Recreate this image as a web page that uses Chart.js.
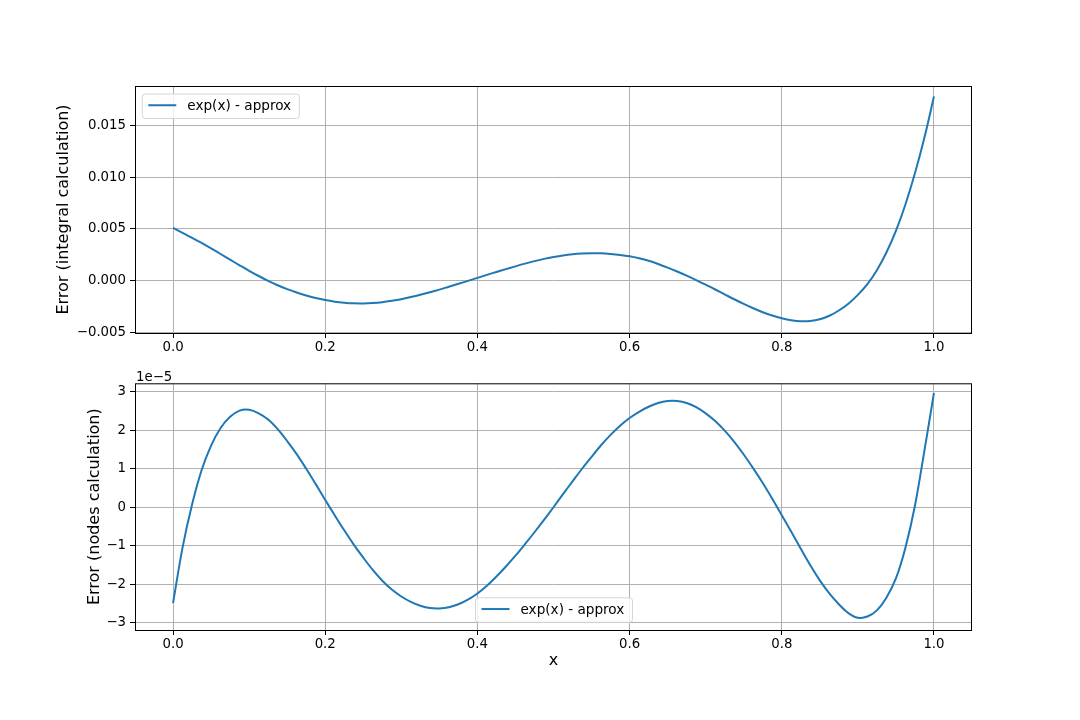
<!DOCTYPE html>
<html>
<head>
<meta charset="utf-8">
<script src="https://cdn.jsdelivr.net/npm/chart.js@4.4.0/dist/chart.umd.min.js"></script>
<style>
html,body{margin:0;padding:0;background:#ffffff;}
canvas{display:block;}
</style>
</head>
<body>
<canvas id="c1" width="1080" height="360"></canvas>
<canvas id="c2" width="1080" height="360"></canvas>
<script>
// ---- data ----
const seriesLabel = 'exp(x) - approx';
const topYLabel = 'Error (integral calculation)';
const botYLabel = 'Error (nodes calculation)';
const xLabel = 'x';
const botOffsetText = '1e\u22125';

// sample positions along x (shared by both panels)
const sampleX = [0, 0.0125, 0.025, 0.0375, 0.05, 0.0625, 0.075, 0.0875, 0.1, 0.1125,
  0.125, 0.1375, 0.15, 0.1625, 0.175, 0.1875, 0.2, 0.2125, 0.225, 0.2375,
  0.25, 0.2625, 0.275, 0.2875, 0.3, 0.3125, 0.325, 0.3375, 0.35, 0.3625,
  0.375, 0.3875, 0.4, 0.4125, 0.425, 0.4375, 0.45, 0.4625, 0.475, 0.4875,
  0.5, 0.5125, 0.525, 0.5375, 0.55, 0.5625, 0.575, 0.5875, 0.6, 0.6125,
  0.625, 0.6375, 0.65, 0.6625, 0.675, 0.6875, 0.7, 0.7125, 0.725, 0.7375,
  0.75, 0.7625, 0.775, 0.7875, 0.8, 0.8125, 0.825, 0.8375, 0.85, 0.8625,
  0.875, 0.8875, 0.9, 0.9125, 0.925, 0.9375, 0.95, 0.9625, 0.975, 0.9875, 1.0];

// top panel: error of the integral-based approximation
const topY = [0.00510, 0.00463, 0.00415, 0.00365, 0.00313, 0.00259, 0.00204, 0.00150, 0.00097, 0.00047,
  0.00000, -0.00042, -0.00080, -0.00112, -0.00140, -0.00165, -0.00185, -0.00200, -0.00210, -0.00216,
  -0.00217, -0.00213, -0.00205, -0.00192, -0.00176, -0.00156, -0.00134, -0.00110, -0.00084, -0.00056,
  -0.00028, 0.00000, 0.00029, 0.00058, 0.00086, 0.00113, 0.00140, 0.00166, 0.00190, 0.00212,
  0.00230, 0.00245, 0.00256, 0.00263, 0.00266, 0.00265, 0.00259, 0.00250, 0.00237, 0.00218,
  0.00194, 0.00163, 0.00128, 0.00090, 0.00050, 0.00007, -0.00037, -0.00083, -0.00130, -0.00177,
  -0.00222, -0.00264, -0.00302, -0.00334, -0.00360, -0.00379, -0.00389, -0.00387, -0.00370, -0.00336,
  -0.00285, -0.00220, -0.00135, -0.00032, 0.00103, 0.00273, 0.00481, 0.00736, 0.01036, 0.01381, 0.01775];

// bottom panel: error of the nodes-based approximation, in units of 1e-5
const botY = [-2.49, -1.05, 0.07, 0.96, 1.60, 2.06, 2.35, 2.51, 2.53, 2.44,
  2.28, 2.03, 1.72, 1.38, 1.00, 0.60, 0.19, -0.21, -0.60, -0.97,
  -1.31, -1.63, -1.91, -2.14, -2.32, -2.46, -2.56, -2.62, -2.63, -2.60,
  -2.52, -2.40, -2.24, -2.04, -1.80, -1.54, -1.26, -0.96, -0.65, -0.33,
  0.00, 0.34, 0.67, 1.00, 1.31, 1.61, 1.88, 2.12, 2.32, 2.48,
  2.61, 2.71, 2.76, 2.76, 2.71, 2.60, 2.44, 2.24, 1.99, 1.70,
  1.37, 1.01, 0.63, 0.22, -0.21, -0.64, -1.08, -1.51, -1.90, -2.24,
  -2.52, -2.75, -2.87, -2.84, -2.68, -2.35, -1.85, -1.05, 0.04, 1.47, 2.97];

const xTickStep = 0.2;
const topYTickStep = 0.005;
const botYTickStep = 1;

// ---- styling ----
const FONT = "'DejaVu Sans', sans-serif";
const LINE_COLOR = '#1f77b4';
const GRID_COLOR = '#b0b0b0';
const fmtMinus = s => String(s).replace('-', '\u2212');

const framePlugin = {
  id: 'mplFrame',
  afterDraw(chart) {
    const {ctx, chartArea: a} = chart;
    ctx.save();
    ctx.strokeStyle = '#000';
    ctx.lineWidth = 1;
    ctx.strokeRect(a.left + 0.5, a.top + 0.5, a.right - a.left - 1, a.bottom - a.top);
    ctx.restore();
  }
};

const legendPlugin = {
  id: 'mplLegend',
  afterDatasetsDraw(chart, args, opts) {
    if (!opts || !opts.loc) return;
    const {ctx, chartArea: a} = chart;
    const w = 157, h = 24.5;
    let x, y;
    if (opts.loc === 'upper left') { x = a.left + 7.3; y = a.top + 8; }
    else { x = (a.left + a.right) / 2 - w / 2 + 0.5; y = a.bottom - 7.7 - h; }
    ctx.save();
    const r = 3;
    ctx.beginPath();
    ctx.moveTo(x + r, y);
    ctx.lineTo(x + w - r, y); ctx.quadraticCurveTo(x + w, y, x + w, y + r);
    ctx.lineTo(x + w, y + h - r); ctx.quadraticCurveTo(x + w, y + h, x + w - r, y + h);
    ctx.lineTo(x + r, y + h); ctx.quadraticCurveTo(x, y + h, x, y + h - r);
    ctx.lineTo(x, y + r); ctx.quadraticCurveTo(x, y, x + r, y);
    ctx.closePath();
    ctx.fillStyle = 'rgba(255,255,255,0.8)';
    ctx.fill();
    ctx.strokeStyle = '#d6d6d6';
    ctx.lineWidth = 1;
    ctx.stroke();
    const ds = chart.data.datasets[0];
    ctx.beginPath();
    ctx.moveTo(x + 6, y + h / 2 - 1);
    ctx.lineTo(x + 34, y + h / 2 - 1);
    ctx.strokeStyle = ds.borderColor;
    ctx.lineWidth = 2;
    ctx.stroke();
    ctx.fillStyle = '#000';
    ctx.font = '13.6px ' + FONT;
    ctx.textBaseline = 'middle';
    ctx.textAlign = 'left';
    ctx.fillText(ds.label, x + 45, y + h / 2);
    ctx.restore();
  }
};

const offsetTextPlugin = {
  id: 'mplOffset',
  afterDraw(chart, args, opts) {
    if (!opts || !opts.text) return;
    const {ctx, chartArea: a} = chart;
    ctx.save();
    ctx.fillStyle = '#000';
    ctx.font = '13.3px ' + FONT;
    ctx.textBaseline = 'alphabetic';
    ctx.textAlign = 'left';
    ctx.fillText(opts.text, a.left + 1, a.top - 2.6);
    ctx.restore();
  }
};

function makeChart(canvasId, xs, ys, cfg) {
  const points = xs.map((x, i) => ({x: x, y: ys[i]}));
  return new Chart(document.getElementById(canvasId), {
    type: 'line',
    data: {
      datasets: [{
        label: seriesLabel,
        data: points,
        borderColor: LINE_COLOR,
        backgroundColor: LINE_COLOR,
        borderWidth: 2,
        pointRadius: 0,
        tension: 0.33,
        fill: false
      }]
    },
    options: {
      responsive: false,
      animation: false,
      devicePixelRatio: 1,
      layout: {padding: cfg.padding},
      plugins: {
        legend: {display: false},
        tooltip: {enabled: false},
        mplLegend: {loc: cfg.legendLoc},
        mplOffset: {text: cfg.offsetText || ''}
      },
      scales: {
        x: {
          type: 'linear',
          min: -0.05,
          max: 1.05,
          ticks: {
            stepSize: xTickStep,
            includeBounds: false,
            maxRotation: 0,
            autoSkip: false,
            padding: 2,
            color: '#000',
            font: {family: FONT, size: 13.3},
            callback: v => fmtMinus(Number(v).toFixed(1))
          },
          grid: {color: GRID_COLOR, lineWidth: 1, tickColor: '#000', tickLength: 5, drawTicks: true},
          border: {display: false},
          title: {
            display: !!cfg.xTitle,
            text: cfg.xTitle || '',
            color: '#000',
            font: {family: FONT, size: 16},
            padding: {top: 4, bottom: 4}
          },
          afterFit(s) { s.height = cfg.xHeight; s.paddingLeft = 0; s.paddingRight = 0; }
        },
        y: {
          type: 'linear',
          min: cfg.yMin,
          max: cfg.yMax,
          ticks: {
            stepSize: cfg.yStep,
            includeBounds: false,
            padding: 4,
            color: '#000',
            font: {family: FONT, size: 13.3},
            callback: v => fmtMinus(Number(v).toFixed(cfg.yDecimals))
          },
          grid: {color: GRID_COLOR, lineWidth: 1, tickColor: '#000', tickLength: 5, drawTicks: true},
          border: {display: false},
          title: {
            display: true,
            text: cfg.yTitle,
            color: '#000',
            font: {family: FONT, size: 16},
            padding: {top: 4, bottom: 4}
          },
          afterFit(s) { s.width = cfg.yWidth; s.paddingTop = 0; s.paddingBottom = 0; }
        }
      }
    },
    plugins: [framePlugin, legendPlugin, offsetTextPlugin]
  });
}

makeChart('c1', sampleX, topY, {
  padding: {left: 50.4, top: 86, right: 108, bottom: 0},
  xHeight: 27,
  yWidth: 84.6,
  yMin: -0.00502,
  yMax: 0.01877,
  yStep: topYTickStep,
  yDecimals: 3,
  yTitle: topYLabel,
  legendLoc: 'upper left'
});

makeChart('c2', sampleX, botY, {
  padding: {left: 81.4, top: 23.3, right: 108, bottom: 45.4},
  xHeight: 44.6,
  yWidth: 53.6,
  yMin: -3.19,
  yMax: 3.22,
  yStep: botYTickStep,
  yDecimals: 0,
  yTitle: botYLabel,
  xTitle: xLabel,
  legendLoc: 'lower center',
  offsetText: botOffsetText
});
</script>
</body>
</html>
